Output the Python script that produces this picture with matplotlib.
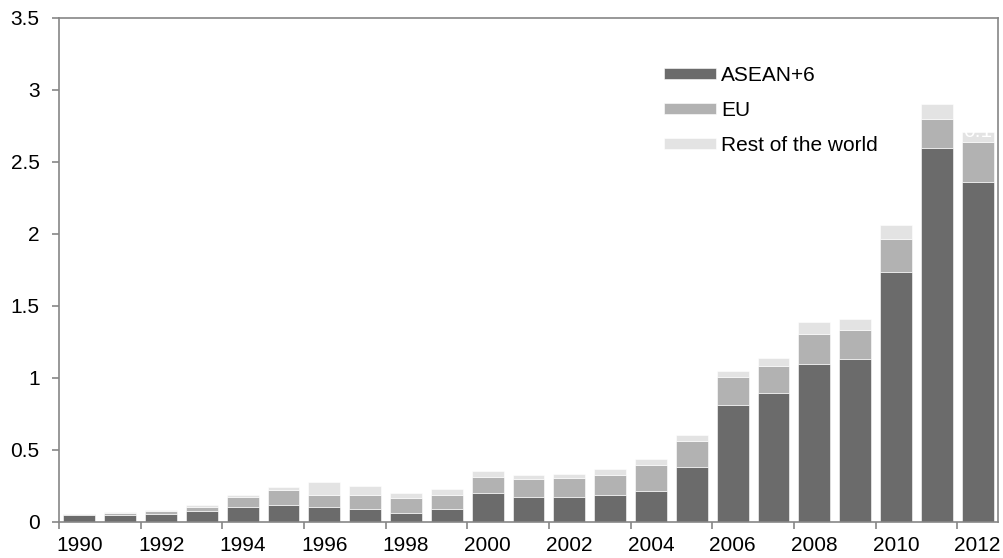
import matplotlib
matplotlib.use("Agg")
import matplotlib.pyplot as plt
import numpy as np

plt.rcParams['font.family'] = ['Liberation Sans', 'DejaVu Sans']

years = [str(y) for y in range(1990, 2013)]
asean6 = [0.049, 0.049, 0.054, 0.075, 0.103, 0.117, 0.103, 0.085, 0.059, 0.089,
          0.200, 0.172, 0.172, 0.186, 0.212, 0.381, 0.811, 0.895, 1.096, 1.128,
          1.730, 2.596, 2.357]
eu = [0.003, 0.010, 0.017, 0.026, 0.069, 0.102, 0.081, 0.101, 0.106, 0.097,
      0.111, 0.125, 0.132, 0.139, 0.182, 0.180, 0.190, 0.187, 0.208, 0.204,
      0.230, 0.197, 0.277]
row = [0.002, 0.005, 0.009, 0.014, 0.014, 0.023, 0.093, 0.060, 0.033, 0.042,
       0.040, 0.026, 0.026, 0.040, 0.040, 0.040, 0.044, 0.053, 0.084, 0.074,
       0.099, 0.104, 0.070]
series_names = ['ASEAN+6', 'EU', 'Rest of the world']
colors = ['#6b6b6b', '#b2b2b2', '#e3e3e3']
label_2012_row = '0.1'

FS = 15

fig = plt.figure(figsize=(10.04, 5.58), dpi=100)
ax = fig.add_axes([59/1004, 1-521.7/558, (998-59)/1004, (521.7-17.5)/558])

x = np.arange(len(years))
w = 0.78
a = np.array(asean6); e = np.array(eu); r = np.array(row)
ax.bar(x, a, w, color=colors[0], label=series_names[0], edgecolor='white', linewidth=0.4)
ax.bar(x, e, w, bottom=a, color=colors[1], label=series_names[1], edgecolor='white', linewidth=0.4)
ax.bar(x, r, w, bottom=a+e, color=colors[2], label=series_names[2], edgecolor='white', linewidth=0.4)

# white data label on 2012 rest-of-world segment
ax.text(x[-1], a[-1] + e[-1] + 0.038, label_2012_row, color='white',
        ha='center', va='baseline', fontsize=FS, clip_on=False)

ax.set_xlim(-0.5, len(years) - 0.5)
ax.set_ylim(0, 3.5)
ax.set_yticks(np.arange(0, 3.51, 0.5))
ax.set_yticklabels(['0', '0.5', '1', '1.5', '2', '2.5', '3', '3.5'])
ax.set_xticks(x[::2])
ax.set_xticklabels(years[::2])
ax.set_xticks(np.arange(-0.5, len(years), 2), minor=True)

spine_c = '#868686'
for s in ax.spines.values():
    s.set_color(spine_c)
    s.set_linewidth(1.2)
ax.tick_params(axis='x', which='major', length=0, labelsize=FS, pad=10, colors='black')
ax.tick_params(axis='x', which='minor', length=5, width=1.2, color=spine_c, direction='out')
ax.tick_params(axis='y', length=5, width=1.2, color=spine_c, labelsize=FS, pad=9, labelcolor='black')

leg = ax.legend(loc='upper left', bbox_to_anchor=(0.644, 0.904), frameon=False,
                fontsize=FS, handlelength=2.5, handleheight=0.45, handletextpad=0.24,
                labelspacing=0.76, borderaxespad=0, borderpad=0)

fig.savefig('out.png', dpi=100)
